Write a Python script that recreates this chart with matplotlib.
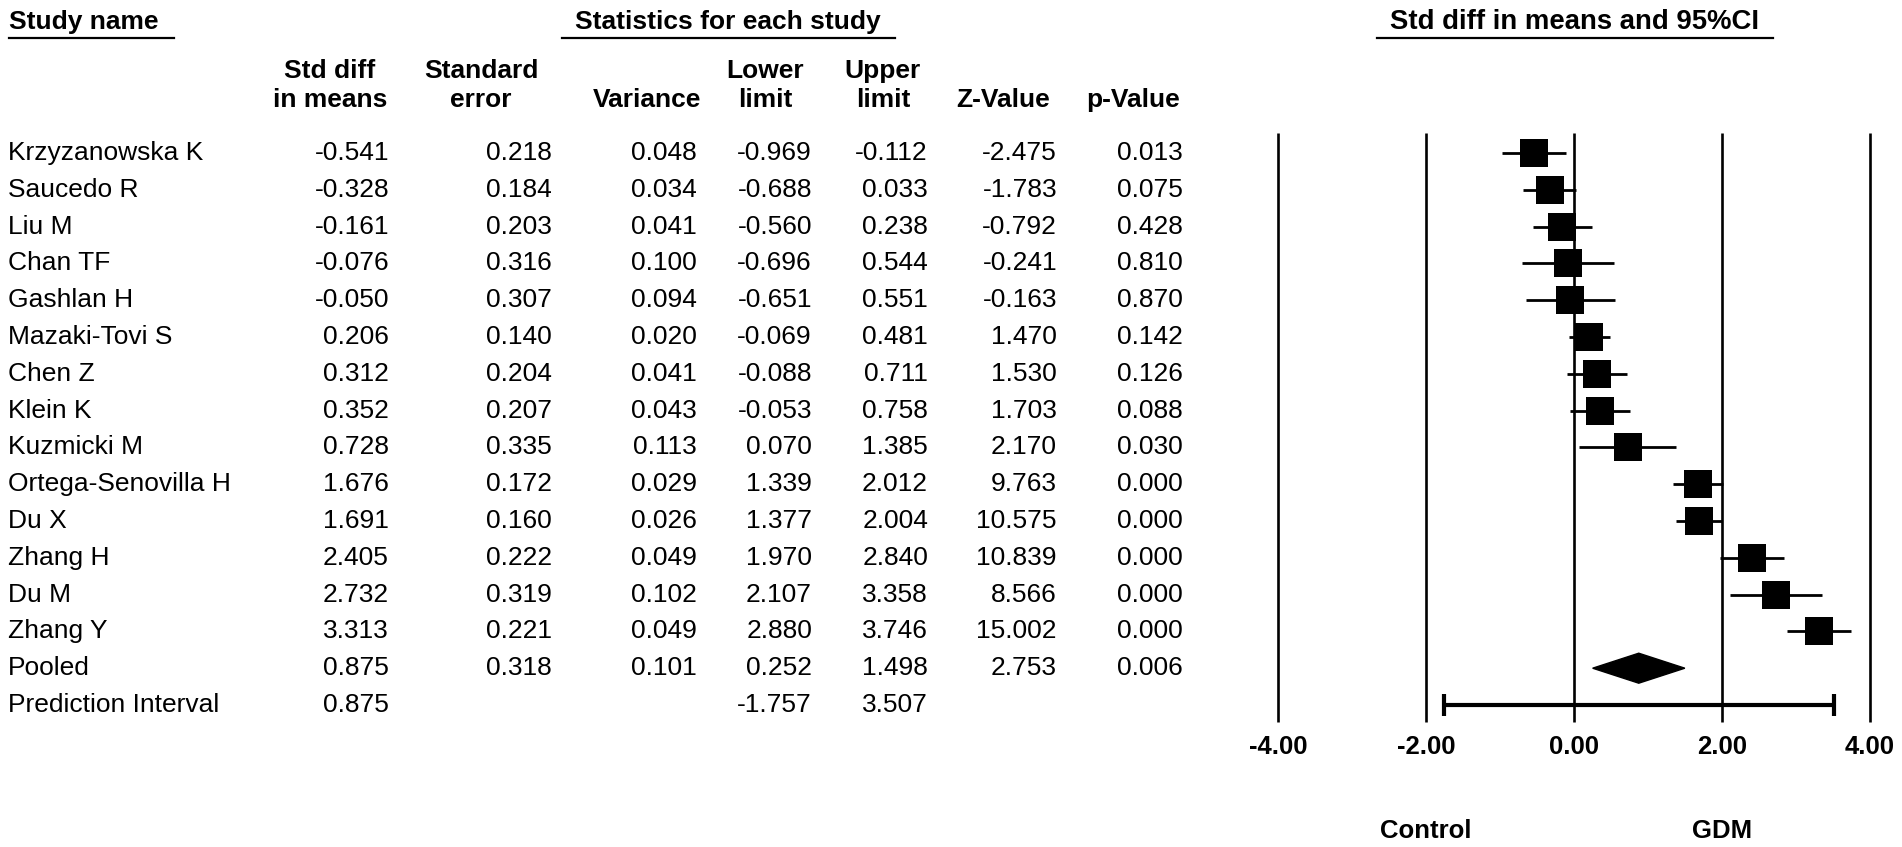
import matplotlib
matplotlib.use("Agg")
import matplotlib.pyplot as plt
from matplotlib.patches import Polygon
import numpy as np

plt.rcParams['font.family'] = ['Liberation Sans', 'DejaVu Sans']

studies = ["Krzyzanowska K", "Saucedo R", "Liu M", "Chan TF", "Gashlan H",
           "Mazaki-Tovi S", "Chen Z", "Klein K", "Kuzmicki M",
           "Ortega-Senovilla H", "Du X", "Zhang H", "Du M", "Zhang Y"]
smd = [-0.541, -0.328, -0.161, -0.076, -0.050, 0.206, 0.312, 0.352, 0.728,
       1.676, 1.691, 2.405, 2.732, 3.313]
se = [0.218, 0.184, 0.203, 0.316, 0.307, 0.140, 0.204, 0.207, 0.335,
      0.172, 0.160, 0.222, 0.319, 0.221]
var = [0.048, 0.034, 0.041, 0.100, 0.094, 0.020, 0.041, 0.043, 0.113,
       0.029, 0.026, 0.049, 0.102, 0.049]
lower = [-0.969, -0.688, -0.560, -0.696, -0.651, -0.069, -0.088, -0.053, 0.070,
         1.339, 1.377, 1.970, 2.107, 2.880]
upper = [-0.112, 0.033, 0.238, 0.544, 0.551, 0.481, 0.711, 0.758, 1.385,
         2.012, 2.004, 2.840, 3.358, 3.746]
zval = [-2.475, -1.783, -0.792, -0.241, -0.163, 1.470, 1.530, 1.703, 2.170,
        9.763, 10.575, 10.839, 8.566, 15.002]
pval = [0.013, 0.075, 0.428, 0.810, 0.870, 0.142, 0.126, 0.088, 0.030,
        0.000, 0.000, 0.000, 0.000, 0.000]

pooled = dict(smd=0.875, se=0.318, var=0.101, lower=0.252, upper=1.498, z=2.753, p=0.006)
pred = dict(smd=0.875, lower=-1.757, upper=3.507)
tau2 = 1.358

xticks = [-4, -2, 0, 2, 4]
xticklabels = ["-4.00", "-2.00", "0.00", "2.00", "4.00"]
left_label, right_label = "Control", "GDM"

W, H = 1902, 847
fig = plt.figure(figsize=(W / 100, H / 100), dpi=100)

# pixel-mapped text layer
axt = fig.add_axes([0, 0, 1, 1])
axt.set_xlim(0, W)
axt.set_ylim(H, 0)
axt.axis('off')

row0, dy = 153, 36.8
def rowy(i):
    return row0 + dy * i

FS = 19
# Section headers
axt.text(9, 22, "Study name", fontsize=FS, fontweight='bold', ha='left', va='center')
axt.plot([9, 174], [38, 38], color='black', lw=1.6)
axt.text(728, 22, "Statistics for each study", fontsize=FS, fontweight='bold', ha='center', va='center')
axt.plot([562, 895], [38, 38], color='black', lw=1.6)
axt.text(1575, 22, "Std diff in means and 95%CI", fontsize=19.8, fontweight='bold', ha='center', va='center')
axt.plot([1377, 1773], [38, 38], color='black', lw=1.6)

# Column headers
hdrs = [("Std diff\nin means", 330), ("Standard\nerror", 481), ("Variance", 647),
        ("Lower\nlimit", 765), ("Upper\nlimit", 883), ("Z-Value", 1003), ("p-Value", 1133)]
for txt, x in hdrs:
    lines = txt.split("\n")
    if len(lines) == 2:
        axt.text(x, 71, lines[0], fontsize=FS, fontweight='bold', ha='center', va='center')
        axt.text(x, 100, lines[1], fontsize=FS, fontweight='bold', ha='center', va='center')
    else:
        axt.text(x, 100, lines[0], fontsize=FS, fontweight='bold', ha='center', va='center')

colx = [389, 552, 697, 812, 928, 1057, 1183]
for i, name in enumerate(studies):
    y = rowy(i)
    axt.text(8, y, name, fontsize=FS, ha='left', va='center')
    vals = [smd[i], se[i], var[i], lower[i], upper[i], zval[i], pval[i]]
    for v, x in zip(vals, colx):
        axt.text(x, y, f"{v:.3f}", fontsize=FS, ha='right', va='center')

n = len(studies)
y = rowy(n)
axt.text(8, y, "Pooled", fontsize=FS, ha='left', va='center')
for v, x in zip([pooled['smd'], pooled['se'], pooled['var'], pooled['lower'],
                 pooled['upper'], pooled['z'], pooled['p']], colx):
    axt.text(x, y, f"{v:.3f}", fontsize=FS, ha='right', va='center')
y = rowy(n + 1)
axt.text(8, y, "Prediction Interval", fontsize=FS, ha='left', va='center')
for v, x in [(pred['smd'], colx[0]), (pred['lower'], colx[3]), (pred['upper'], colx[4])]:
    axt.text(x, y, f"{v:.3f}", fontsize=FS, ha='right', va='center')

# Forest plot axes (pixel-calibrated)
x0px, x1px = 1240, 1900
ytop_px = 110
zero_px, ppu = 1574, 74.0
ax = fig.add_axes([x0px / W, 0, (x1px - x0px) / W, (H - ytop_px) / H])
ax.set_xlim((x0px - zero_px) / ppu, (x1px - zero_px) / ppu)
ax.set_ylim((H - row0) / dy, (ytop_px - row0) / dy)
ax.axis('off')

vtop, vbot = (133 - row0) / dy, (722 - row0) / dy
for xt in xticks:
    ax.plot([xt, xt], [vtop, vbot], color='black', lw=1.9, solid_capstyle='butt')

w = 1.0 / (np.array(se) ** 2 + tau2)
sides = 29 * np.sqrt(w / w.min()) * 0.96
for i in range(n):
    ax.plot([lower[i], upper[i]], [i, i], color='black', lw=2.0, solid_capstyle='butt', zorder=3)
    ax.plot(smd[i], i, marker='s', color='black', markersize=sides[i] * 0.72,
            markeredgewidth=0, zorder=4)

# Pooled diamond
h = 15 / dy
ax.add_patch(Polygon([[pooled['lower'], n], [pooled['smd'], n - h],
                      [pooled['upper'], n], [pooled['smd'], n + h]],
                     closed=True, color='black', zorder=4))

# Prediction interval
yp = n + 1
ax.plot([pred['lower'], pred['upper']], [yp, yp], color='black', lw=3.0, solid_capstyle='butt')
cap = 11 / dy
for xv in (pred['lower'], pred['upper']):
    ax.plot([xv, xv], [yp - cap, yp + cap], color='black', lw=3.0, solid_capstyle='butt')

ylab = (747 - row0) / dy
for xt, lab in zip(xticks, xticklabels):
    ax.text(xt, ylab, lab, fontsize=18.5, fontweight='bold', ha='center', va='center')

ylr = (831 - row0) / dy
ax.text(-2, ylr, left_label, fontsize=18.5, fontweight='bold', ha='center', va='center')
ax.text(2, ylr, right_label, fontsize=18.5, fontweight='bold', ha='center', va='center')

fig.savefig("out.png", dpi=100, facecolor='white')
